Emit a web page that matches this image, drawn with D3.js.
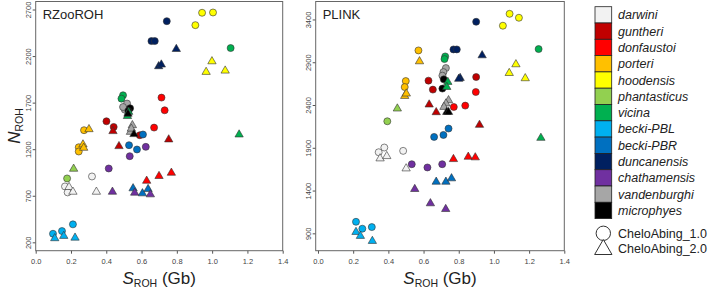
<!DOCTYPE html>
<html><head><meta charset="utf-8">
<script src="https://cdn.jsdelivr.net/npm/d3@7"></script>
<style>
html,body{margin:0;padding:0;background:#fff;}
svg{display:block;font-family:"Liberation Sans",Arial,sans-serif;}
</style></head>
<body><svg id="c" width="709" height="289"></svg>
<script>
// ---------- data ----------
const species = ["darwini","guntheri","donfaustoi","porteri","hoodensis","phantasticus","vicina","becki-PBL","becki-PBR","duncanensis","chathamensis","vandenburghi","microphyes"];
const speciesColors = ["#f2f2f2","#c00000","#ff0000","#ffc000","#ffff00","#92d050","#00b050","#00b0f0","#0070c0","#002060","#7030a0","#a6a6a6","#000000"];
const assemblies = ["CheloAbing_1.0","CheloAbing_2.0"];
const xTicks = [0,0.2,0.4,0.6,0.8,1.0,1.2,1.4];
const yTicksRZoo = [200,700,1200,1700,2200,2700];
const yTicksPlink = [900,1400,1900,2400,2900,3400];

// RZooROH, CheloAbing_1.0 (circles): [species, S_ROH (Gb), N_ROH]
const rzooV1 = [
 ["darwini",0.166,800],["darwini",0.181,736],["darwini",0.319,907],
 ["guntheri",0.401,1500],["guntheri",0.442,1439],["guntheri",0.59,1350],
 ["donfaustoi",0.713,1754],["donfaustoi",0.731,1618],["donfaustoi",0.671,1432],
 ["porteri",0.274,1404],["porteri",0.244,1221],["porteri",0.244,1175],
 ["hoodensis",0.943,2665],["hoodensis",1.005,2668],["hoodensis",0.905,2532],
 ["phantasticus",0.178,886],
 ["vicina",1.105,2286],["vicina",0.495,1779],["vicina",0.486,1743],
 ["becki-PBL",0.098,292],["becki-PBL",0.149,321],["becki-PBL",0.211,393],
 ["becki-PBR",0.608,1358],["becki-PBR",0.529,1243],["becki-PBR",0.574,1197],
 ["duncanensis",0.743,2575],["duncanensis",0.656,2361],["duncanensis",0.675,2361],
 ["chathamensis",0.624,1225],["chathamensis",0.533,1125],["chathamensis",0.414,993],
 ["vandenburghi",0.518,1690],["vandenburghi",0.505,1625],["vandenburghi",0.495,1653],
 ["microphyes",0.535,1640],["microphyes",0.525,1610]
];
// RZooROH, CheloAbing_2.0 (triangles)
const rzooV2 = [
 ["darwini",0.189,793],["darwini",0.211,742],["darwini",0.344,742],
 ["guntheri",0.438,1393],["guntheri",0.472,1232],["guntheri",0.754,1304],
 ["donfaustoi",0.629,860],["donfaustoi",0.699,911],["donfaustoi",0.769,946],
 ["porteri",0.302,1414],["porteri",0.268,1250],["porteri",0.272,1214],
 ["hoodensis",0.999,2143],["hoodensis",0.966,2029],["hoodensis",1.074,2043],
 ["phantasticus",0.215,989],
 ["vicina",1.153,1357],["vicina",0.527,1600],["vicina",0.52,1555],
 ["becki-PBL",0.108,243],["becki-PBL",0.159,268],["becki-PBL",0.223,249],
 ["becki-PBR",0.552,779],["becki-PBR",0.605,725],["becki-PBR",0.637,771],
 ["duncanensis",0.797,2275],["duncanensis",0.697,2090],["duncanensis",0.712,2108],
 ["chathamensis",0.435,742],["chathamensis",0.561,732],["chathamensis",0.65,714],
 ["vandenburghi",0.548,1457],["vandenburghi",0.537,1385],["vandenburghi",0.542,1420],
 ["microphyes",0.523,1580],["microphyes",0.557,1361]
];
// PLINK, CheloAbing_1.0 (circles)
const plinkV1 = [
 ["darwini",0.345,1848],["darwini",0.377,1903],["darwini",0.484,1864],
 ["guntheri",0.628,2685],["guntheri",0.653,2580],["guntheri",0.899,2727],
 ["donfaustoi",0.897,2552],["donfaustoi",0.837,2393],["donfaustoi",0.772,2377],
 ["porteri",0.571,3038],["porteri",0.499,2680],["porteri",0.493,2610],
 ["hoodensis",1.089,3466],["hoodensis",1.142,3420],["hoodensis",1.051,3327],
 ["phantasticus",0.394,2210],
 ["vicina",1.254,3054],["vicina",0.723,2968],["vicina",0.719,2937],
 ["becki-PBL",0.216,1035],["becki-PBL",0.252,954],["becki-PBL",0.306,973],
 ["becki-PBR",0.742,2125],["becki-PBR",0.713,2050],["becki-PBR",0.66,2027],
 ["duncanensis",0.899,3373],["duncanensis",0.770,3050],["duncanensis",0.789,3050],
 ["chathamensis",0.533,1708],["chathamensis",0.622,1670],["chathamensis",0.706,1708],
 ["vandenburghi",0.727,2832],["vandenburghi",0.713,2785],["vandenburghi",0.707,2743],
 ["microphyes",0.715,2700],["microphyes",0.707,2592]
];
// PLINK, CheloAbing_2.0 (triangles)
const plinkV2 = [
 ["darwini",0.353,1775],["darwini",0.391,1802],["darwini",0.501,1658],
 ["guntheri",0.632,2405],["guntheri",0.672,2315],["guntheri",0.918,2167],
 ["donfaustoi",0.77,1767],["donfaustoi",0.854,1794],["donfaustoi",0.894,1787],
 ["porteri",0.577,2910],["porteri",0.493,2505],["porteri",0.502,2533],
 ["hoodensis",1.125,2875],["hoodensis",1.087,2773],["hoodensis",1.178,2712],
 ["phantasticus",0.451,2358],
 ["vicina",1.267,2015],["vicina",0.738,2669],["vicina",0.732,2610],
 ["becki-PBL",0.216,915],["becki-PBL",0.241,869],["becki-PBL",0.309,810],
 ["becki-PBR",0.672,1502],["becki-PBR",0.727,1502],["becki-PBR",0.759,1542],
 ["duncanensis",0.933,2980],["duncanensis",0.808,2715],["duncanensis",0.80,2705],
 ["chathamensis",0.55,1417],["chathamensis",0.639,1250],["chathamensis",0.726,1183],
 ["vandenburghi",0.742,2455],["vandenburghi",0.727,2417],["vandenburghi",0.716,2377],
 ["microphyes",0.732,2318],["microphyes",0.742,2318]
];

// ---------- drawing ----------
const svg = d3.select("#c");
const color = d3.scaleOrdinal().domain(species).range(speciesColors);
const triPath = d3.symbol().type(d3.symbolTriangle).size(30)();
const FONT = "'Liberation Sans', Arial, sans-serif";

function panel(cfg){
  const x = d3.scaleLinear().domain(cfg.xDomain).range([cfg.left, cfg.right]);
  const y = d3.scaleLinear().domain(cfg.yDomain).range([cfg.bottom, cfg.top]);
  const g = svg.append("g");
  // x axis
  const xa = g.append("g").attr("transform",`translate(0,${cfg.bottom})`)
    .call(d3.axisBottom(x).tickValues(xTicks).tickFormat(d3.format(".1f")).tickSize(3).tickSizeOuter(0));
  xa.select(".domain").remove();
  xa.selectAll("text").attr("font-size",7.5).attr("fill","#444").attr("dy","0.95em").attr("font-family",FONT);
  xa.selectAll("line").attr("stroke","#555");
  // y axis
  const ya = g.append("g").attr("transform",`translate(${cfg.left},0)`)
    .call(d3.axisLeft(y).tickValues(cfg.yTicks).tickFormat(d3.format("d")).tickSize(3).tickSizeOuter(0));
  ya.select(".domain").remove();
  ya.selectAll("line").attr("stroke","#555");
  ya.selectAll("text").attr("font-size",7.5).attr("fill","#444").attr("font-family",FONT)
    .attr("x",null).attr("dy",null).attr("text-anchor","middle")
    .attr("transform","translate(-4.5,0) rotate(-90)");
  // frame
  g.append("rect").attr("x",cfg.left).attr("y",cfg.top)
    .attr("width",cfg.right-cfg.left).attr("height",cfg.bottom-cfg.top)
    .attr("fill","none").attr("stroke","#666").attr("stroke-width",1);
  // label
  g.append("text").attr("x",cfg.left+7).attr("y",cfg.top+17).attr("font-size",13).attr("fill","#222").text(cfg.label);
  // circles
  g.append("g").selectAll("circle").data(cfg.v1).join("circle")
    .attr("cx",d=>x(d[1])).attr("cy",d=>y(d[2])).attr("r",3.5)
    .attr("fill",d=>color(d[0])).attr("stroke","#333").attr("stroke-width",0.6);
  // triangles
  g.append("g").selectAll("path").data(cfg.v2).join("path")
    .attr("d",triPath).attr("transform",d=>`translate(${x(d[1])},${y(d[2])})`)
    .attr("fill",d=>color(d[0])).attr("stroke","#333").attr("stroke-width",0.6);
  // x title
  const xt = g.append("text").attr("x",(cfg.left+cfg.right)/2).attr("y",284)
    .attr("text-anchor","middle").attr("font-size",17).attr("fill","#222");
  xt.append("tspan").attr("font-style","italic").text("S");
  xt.append("tspan").attr("font-size",10.5).attr("dy",3).text("ROH");
  xt.append("tspan").attr("dy",-3).text(" (Gb)");
}

panel({label:"RZooROH", left:35.7, right:282.7, top:1.5, bottom:250.7,
  xDomain:[0,1.4], yDomain:[110,2786], yTicks:yTicksRZoo, v1:rzooV1, v2:rzooV2});
panel({label:"PLINK", left:315.7, right:564.3, top:1.5, bottom:250.7,
  xDomain:[-0.013,1.4], yDomain:[697,3610], yTicks:yTicksPlink, v1:plinkV1, v2:plinkV2});

// y title
const yt = svg.append("text").attr("transform","translate(20,126) rotate(-90)")
  .attr("text-anchor","middle").attr("font-size",17).attr("fill","#222");
yt.append("tspan").attr("font-style","italic").text("N");
yt.append("tspan").attr("font-size",10.5).attr("dy",3).text("ROH");

// legend
const lg = svg.append("g");
const rowH = 16.3, lx = 595, ltop = 6.7;
lg.selectAll("rect").data(species).join("rect")
  .attr("x",lx).attr("y",(d,i)=>ltop+i*rowH).attr("width",16.7).attr("height",rowH)
  .attr("fill",d=>color(d)).attr("stroke","#222").attr("stroke-width",0.8);
lg.selectAll("text.sp").data(species).join("text").attr("class","sp")
  .attr("x",618).attr("y",(d,i)=>ltop+i*rowH+rowH/2+4.5)
  .attr("font-size",12.5).attr("font-style","italic").attr("fill","#222").text(d=>d);
const shapeY = [233.3, 248.5];
lg.append("circle").attr("cx",603.3).attr("cy",shapeY[0]).attr("r",7.2)
  .attr("fill","#fff").attr("stroke","#333").attr("stroke-width",1);
lg.append("path").attr("d",d3.symbol().type(d3.symbolTriangle).size(130)())
  .attr("transform",`translate(603.3,${shapeY[1]+1})`)
  .attr("fill","#fff").attr("stroke","#333").attr("stroke-width",1);
lg.selectAll("text.as").data(assemblies).join("text").attr("class","as")
  .attr("x",618).attr("y",(d,i)=>shapeY[i]+4.5)
  .attr("font-size",12.5).attr("fill","#222").text(d=>d);
</script></body></html>
